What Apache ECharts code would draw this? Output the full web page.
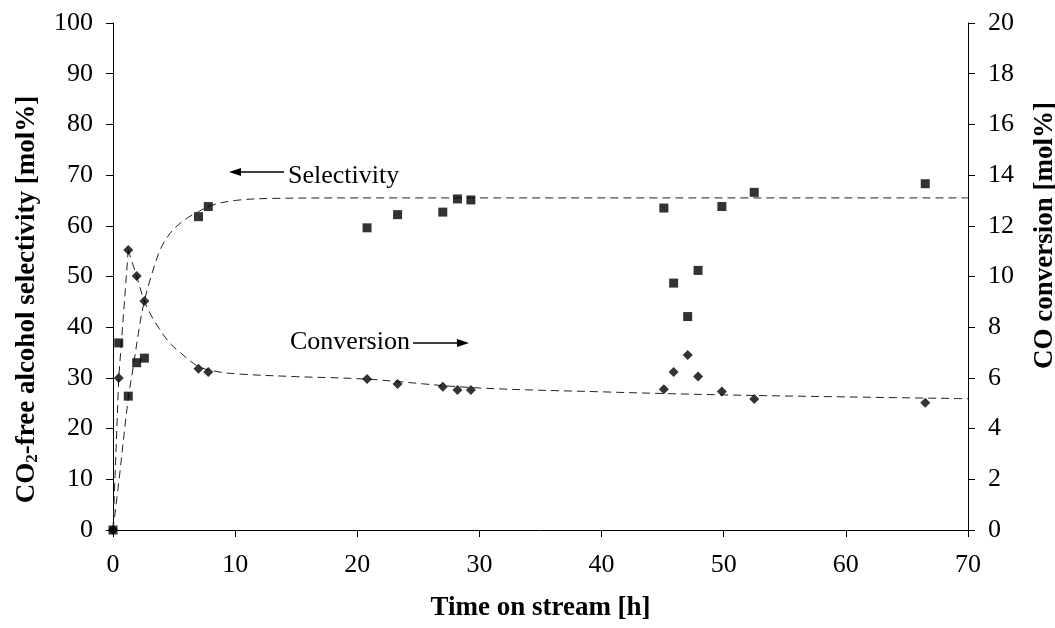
<!DOCTYPE html>
<html>
<head>
<meta charset="utf-8">
<script src="https://cdn.jsdelivr.net/npm/echarts@6/dist/echarts.min.js"></script>
<style>
  html, body { margin: 0; padding: 0; background: #fff; }
  #chart { width: 1055px; height: 628px; }
</style>
</head>
<body>
<div id="chart"></div>
<script>
// Sampling times on stream [h]
const hours = [0, 0.47, 1.25, 1.94, 2.57, 7.0, 7.8, 20.8, 23.3, 27.0, 28.2, 29.3, 45.1, 45.9, 47.05, 47.9, 49.85, 52.5, 66.5];
// CO2-free alcohol selectivity [mol%] (left axis)
const selectivity = [0, 36.9, 26.4, 33.0, 33.9, 61.8, 63.8, 59.6, 62.2, 62.7, 65.3, 65.1, 63.5, 48.7, 42.1, 51.2, 63.8, 66.6, 68.3];
// CO conversion [mol%] (right axis)
const conversion = [0, 6.0, 11.05, 10.02, 9.03, 6.36, 6.23, 5.96, 5.76, 5.65, 5.52, 5.52, 5.55, 6.23, 6.90, 6.06, 5.46, 5.17, 5.02];

// Trend line through the selectivity data
const selTrendT = [0, 0.5, 1.25, 1.66, 2.21, 2.57, 3.03, 3.85, 4.67, 5.76, 7.0, 8.0, 10, 13, 20, 70];
const selTrendV = [0, 10, 26, 32.2, 40.8, 45.2, 49.3, 55.2, 58.5, 61.0, 62.8, 64.0, 65.0, 65.4, 65.5, 65.5];
// Trend line through the conversion data: start-up rise, then slow decay
const convRiseT = [0, 0.47, 1.25];
const convRiseV = [0, 6.0, 11.05];
const convDecayT = [1.25, 1.94, 2.57, 3.2, 3.85, 4.6, 5.5, 7.0, 8.5, 10.4, 15, 20.8, 29.3, 40, 50, 60, 70];
const convDecayV = [11.05, 10.0, 9.03, 8.4, 7.9, 7.4, 7.0, 6.45, 6.25, 6.15, 6.05, 5.95, 5.62, 5.45, 5.33, 5.25, 5.18];

// Axis ticks
const xTicks = { min: 0, max: 70, interval: 10 };
const leftTicks = { min: 0, max: 100, interval: 10 };
const rightTicks = { min: 0, max: 20, interval: 2 };

const FONT = '"Liberation Serif", "Times New Roman", serif';
const pair = (xs, ys) => xs.map((x, i) => [x, ys[i]]);

const chart = echarts.init(document.getElementById('chart'), null, { renderer: 'canvas' });

const axisCommon = {
  type: 'value',
  axisLine: { show: true, onZero: false, lineStyle: { color: '#000', width: 1 } },
  axisTick: { show: true, inside: false, length: 7, lineStyle: { color: '#000', width: 1 } },
  axisLabel: { fontFamily: FONT, fontSize: 26, color: '#000' },
  splitLine: { show: false }
};

const titleStyle = { fontFamily: FONT, fontSize: 27, fontWeight: 'bold', color: '#000' };
const dashed = { color: '#222', width: 1, type: [8, 5] };

const option = {
  animation: false,
  backgroundColor: '#fff',
  grid: { left: 113, right: 87, top: 23, bottom: 98, containLabel: false, outerBoundsMode: 'none' },
  xAxis: Object.assign({}, axisCommon, xTicks, {
    name: 'Time on stream [h]',
    nameLocation: 'middle',
    nameGap: 65,
    nameTextStyle: titleStyle,
    axisLabel: Object.assign({}, axisCommon.axisLabel, { margin: 22 })
  }),
  yAxis: [
    Object.assign({}, axisCommon, leftTicks, {
      position: 'left',
      name: '{a|CO}{s|2}{a|-free alcohol selectivity [mol%]}',
      nameLocation: 'middle',
      nameRotate: 90,
      nameGap: 72,
      nameTextStyle: Object.assign({}, titleStyle, {
        padding: [0, 46, 0, 0],
        rich: {
          a: titleStyle,
          s: Object.assign({}, titleStyle, { fontSize: 17, verticalAlign: 'bottom', padding: [10, 0, 0, 0] })
        }
      }),
      axisLabel: Object.assign({}, axisCommon.axisLabel, { margin: 20 })
    }),
    Object.assign({}, axisCommon, rightTicks, {
      position: 'right',
      name: 'CO conversion [mol%]',
      nameLocation: 'middle',
      nameRotate: 90,
      nameGap: 64,
      nameTextStyle: Object.assign({}, titleStyle, { padding: [0, 0, 0, 82] }),
      axisLabel: Object.assign({}, axisCommon.axisLabel, { margin: 20 })
    })
  ],
  series: [
    {
      name: 'Selectivity trend', type: 'line', yAxisIndex: 0,
      data: pair(selTrendT, selTrendV), smooth: 0.35, symbol: 'none',
      lineStyle: dashed, z: 2, silent: true
    },
    {
      name: 'Conversion rise', type: 'line', yAxisIndex: 1,
      data: pair(convRiseT, convRiseV), smooth: false, symbol: 'none',
      lineStyle: dashed, z: 2, silent: true
    },
    {
      name: 'Conversion decay', type: 'line', yAxisIndex: 1,
      data: pair(convDecayT, convDecayV), smooth: 0.35, symbol: 'none',
      lineStyle: dashed, z: 2, silent: true
    },
    {
      name: 'Conversion', type: 'scatter', yAxisIndex: 1,
      data: pair(hours, conversion), symbol: 'diamond', symbolSize: [10, 10],
      itemStyle: { color: '#000' }, z: 4
    },
    {
      name: 'Selectivity', type: 'scatter', yAxisIndex: 0,
      data: pair(hours, selectivity), symbol: 'rect', symbolSize: 9,
      itemStyle: { color: '#000' }, z: 5
    }
  ],
  graphic: [
    // "Selectivity" label with arrow pointing to the left axis
    { type: 'line', shape: { x1: 238, y1: 172, x2: 284, y2: 172 }, style: { stroke: '#000', lineWidth: 1.5 } },
    { type: 'polygon', shape: { points: [[229, 172], [241, 168], [241, 176]] }, style: { fill: '#000' } },
    { type: 'text', x: 288, y: 176, style: { text: 'Selectivity', font: '26px "Liberation Serif", serif', fill: '#000', verticalAlign: 'middle', textAlign: 'left' } },
    // "Conversion" label with arrow pointing to the right axis
    { type: 'text', x: 290, y: 342, style: { text: 'Conversion', font: '26px "Liberation Serif", serif', fill: '#000', verticalAlign: 'middle', textAlign: 'left' } },
    { type: 'line', shape: { x1: 413, y1: 343, x2: 460, y2: 343 }, style: { stroke: '#000', lineWidth: 1.5 } },
    { type: 'polygon', shape: { points: [[469, 343], [457, 339], [457, 347]] }, style: { fill: '#000' } }
  ]
};

chart.setOption(option);
</script>
</body>
</html>
